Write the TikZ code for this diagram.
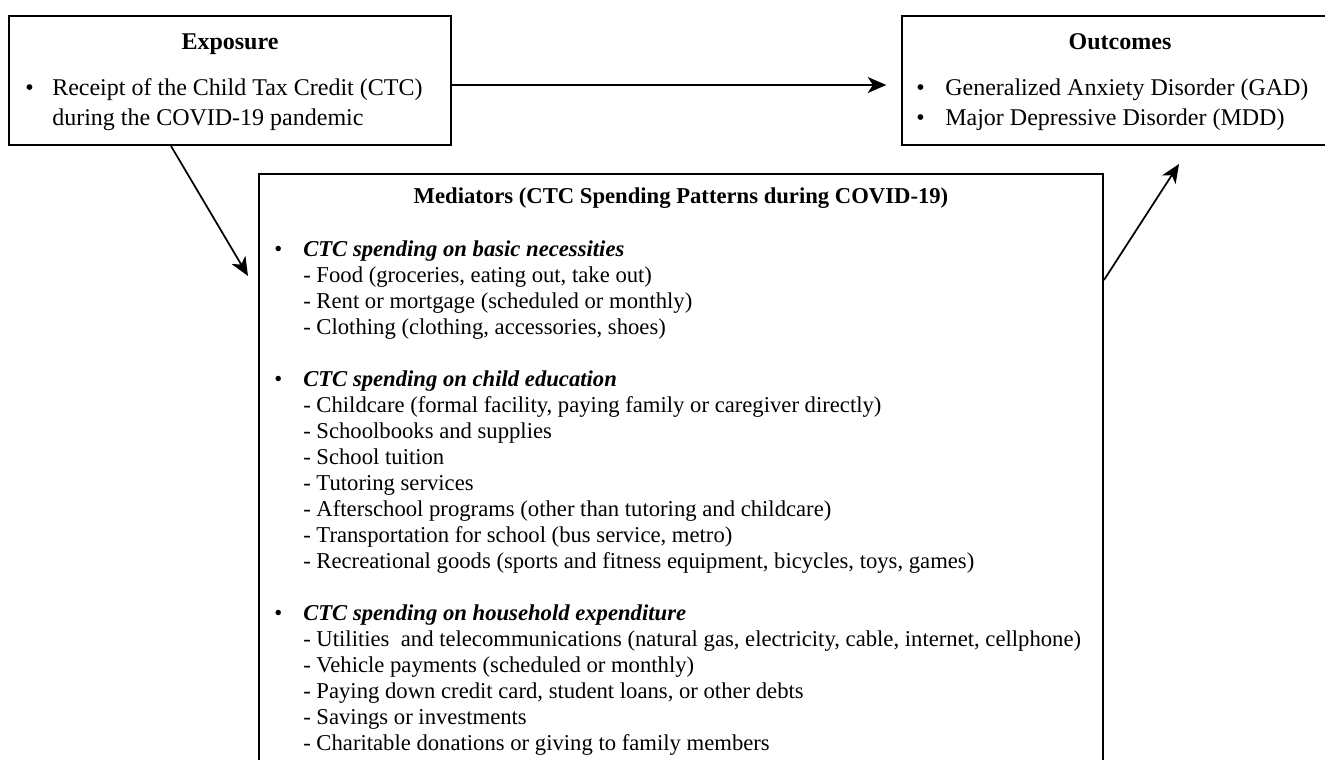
\documentclass[tikz,border=0pt]{standalone}
\usepackage{fontspec}
\setmainfont{Liberation Serif}
\usetikzlibrary{arrows.meta,fit,calc}
\begin{document}
\begin{tikzpicture}[x=0.75pt,y=-0.75pt,
 box/.style={draw, line width=1.5pt, inner sep=0},
 arr/.style={line width=1.3pt, -{Stealth[length=14pt,width=12pt,inset=4pt]}},
 tt/.style={anchor=base, inner sep=0, font=\fontsize{18}{22}\selectfont\bfseries},
 tl/.style={anchor=base west, inner sep=0, font=\fontsize{18}{22}\selectfont},
 mt/.style={anchor=base, inner sep=0, font=\fontsize{17}{20}\selectfont\bfseries},
 ml/.style={anchor=base west, inner sep=0, font=\fontsize{17}{20}\selectfont},
 mh/.style={anchor=base west, inner sep=0, font=\fontsize{17}{20}\selectfont\bfseries\itshape},
]
\useasboundingbox (0,0) rectangle (1325,760);
% boxes
\node[box, fit={(9,16) (451,145)}] (expo) {};
\node[box, fit={(902,16) (1340,145)}] (outc) {};
\node[box, fit={(259,174) (1103,800)}] (med) {};
% exposure
\node[tt] (expoT) at (230,49) {Exposure};
\node[tl] (eb1) at (25,95) {\textbullet};
\node[tl] (e1) at (52,95) {Receipt of the Child Tax Credit (CTC)};
\node[tl] (e2) at (52,125) {during the COVID-19 pandemic};
% outcomes
\node[tt] (outT) at (1120,49) {Outcomes};
\node[tl] (ob1) at (916,95) {\textbullet};
\node[tl] (o1) at (945,95) {Generalized Anxiety Disorder (GAD)};
\node[tl] (ob2) at (916,125) {\textbullet};
\node[tl] (o2) at (945,125) {Major Depressive Disorder (MDD)};
% mediators
\node[mt] (medT) at (681,203) {Mediators (CTC Spending Patterns during COVID-19)};
\node[ml] (mb1) at (274,256) {\textbullet};
\node[mh] (m1) at (303,256) {CTC spending on basic necessities};
\node[ml] (m2) at (303,282) {- Food (groceries, eating out, take out)};
\node[ml] (m3) at (303,308) {- Rent or mortgage (scheduled or monthly)};
\node[ml] (m4) at (303,334) {- Clothing (clothing, accessories, shoes)};
\node[ml] (mb2) at (274,386) {\textbullet};
\node[mh] (m5) at (303,386) {CTC spending on child education};
\node[ml] (m6) at (303,412) {- Childcare (formal facility, paying family or caregiver directly)};
\node[ml] (m7) at (303,438) {- Schoolbooks and supplies};
\node[ml] (m8) at (303,464) {- School tuition};
\node[ml] (m9) at (303,490) {- Tutoring services};
\node[ml] (m10) at (303,516) {- Afterschool programs (other than tutoring and childcare)};
\node[ml] (m11) at (303,542) {- Transportation for school (bus service, metro)};
\node[ml] (m12) at (303,568) {- Recreational goods (sports and fitness equipment, bicycles, toys, games)};
\node[ml] (mb3) at (274,620) {\textbullet};
\node[mh] (m13) at (303,620) {CTC spending on household expenditure};
\node[ml] (m14) at (303,646) {- Utilities\ \ and telecommunications (natural gas, electricity, cable, internet, cellphone)};
\node[ml] (m15) at (303,672) {- Vehicle payments (scheduled or monthly)};
\node[ml] (m16) at (303,698) {- Paying down credit card, student loans, or other debts};
\node[ml] (m17) at (303,724) {- Savings or investments};
\node[ml] (m18) at (303,750) {- Charitable donations or giving to family members};
% connectors
\draw[arr, shorten >=11pt] (expo.east |- 0,85) -- (outc.west |- 0,85);
\draw[arr] ($(expo.south west)+(163,0)$) -- ($(med.north west)+(-10,103)$);
\draw[arr] ($(med.north east)+(0,107)$) -- ($(outc.south west)+(278,18)$);
\end{tikzpicture}
\end{document}
